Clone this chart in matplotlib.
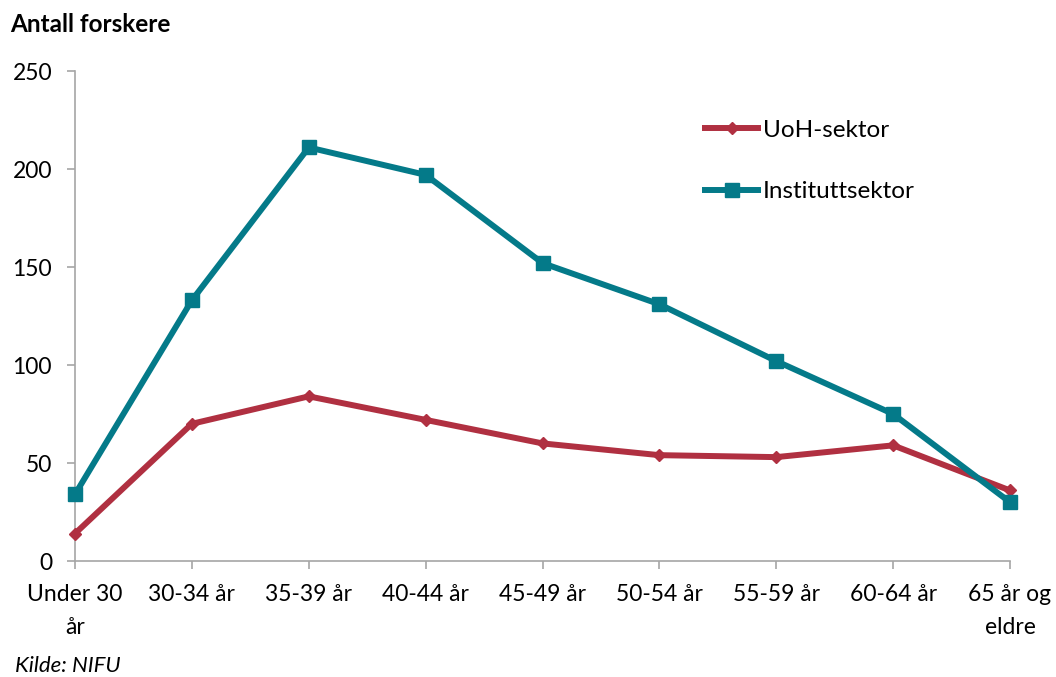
import matplotlib.pyplot as plt

plt.rcParams['font.family'] = ['Lato', 'DejaVu Sans']

age_groups = ["Under 30\når", "30-34 år", "35-39 år", "40-44 år", "45-49 år",
              "50-54 år", "55-59 år", "60-64 år", "65 år og\neldre"]
uoh = [14, 70, 84, 72, 60, 54, 53, 59, 36]
institutt = [34, 133, 211, 197, 152, 131, 102, 75, 30]

RED = "#B03041"
TEAL = "#047A89"
AXIS = "#A6A6A6"

fig = plt.figure(figsize=(10.56, 6.77), dpi=100)
ax = fig.add_axes([75 / 1056, 1 - 561 / 677, (1010 - 75) / 1056, (561 - 71) / 677])

x = range(len(age_groups))
ax.plot(x, uoh, color=RED, lw=4.3, marker="D", markersize=6,
        label="UoH-sektor", solid_capstyle="butt", clip_on=False, zorder=3)
ax.plot(x, institutt, color=TEAL, lw=4.3, marker="s", markersize=9.5,
        label="Instituttsektor", solid_capstyle="butt", clip_on=False, zorder=4)

ax.set_xlim(0, len(age_groups) - 1)
ax.set_ylim(0, 250)
ax.set_yticks(range(0, 251, 50))
ax.set_xticks(list(x))
ax.set_xticklabels(age_groups, fontsize=16.5, linespacing=1.7)
ax.tick_params(axis="y", labelsize=16.5, length=5.5, color=AXIS, width=1.2, pad=11)
ax.tick_params(axis="x", length=5.5, color=AXIS, width=1.2, pad=11)

for side in ["top", "right"]:
    ax.spines[side].set_visible(False)
for side in ["left", "bottom"]:
    ax.spines[side].set_color(AXIS)
    ax.spines[side].set_linewidth(1.2)

ax.legend(loc="upper left", bbox_to_anchor=(0.66, 0.92), frameon=False,
          fontsize=17.5, handlelength=2.45, handletextpad=0.05, labelspacing=1.65,
          borderaxespad=0)

fig.text(10 / 1056, 1 - 25 / 677, "Antall forskere", fontsize=17.5,
         fontweight="bold", va="center", ha="left")
fig.text(15 / 1056, 1 - 666 / 677, "Kilde: NIFU", fontsize=16,
         style="italic", va="center", ha="left")

fig.savefig("out.png", dpi=100)
